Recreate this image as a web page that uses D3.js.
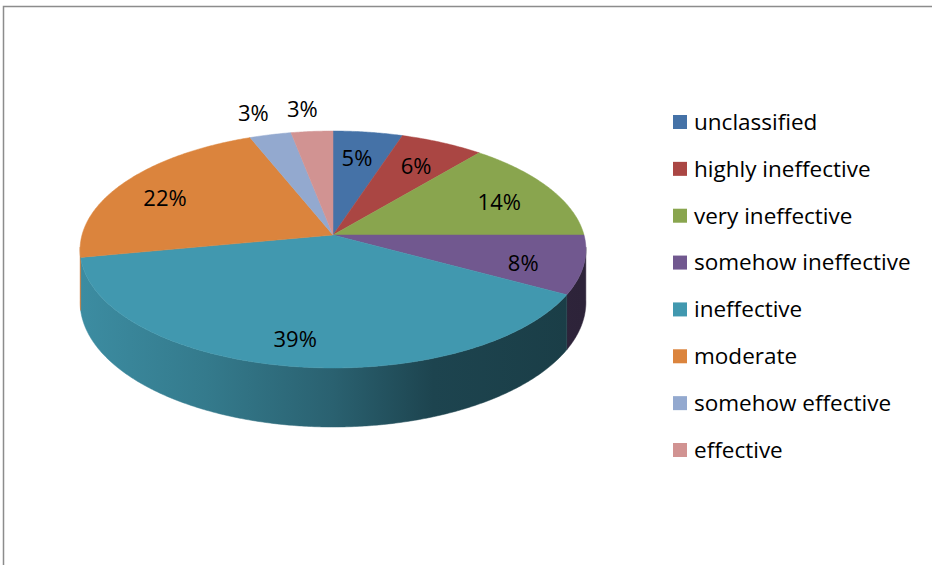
<!DOCTYPE html>
<html>
<head>
<meta charset="utf-8">
<script src="https://cdn.jsdelivr.net/npm/d3@7"></script>
<style>
  html, body { margin: 0; padding: 0; background: #fff; }
  svg { display: block; }
</style>
</head>
<body>
<svg id="chart" width="932" height="565"></svg>
<script>
// ---- data ----
const categories = ["unclassified", "highly ineffective", "very ineffective", "somehow ineffective",
                    "ineffective", "moderate", "somehow effective", "effective"];
const values = [5, 6, 14, 8, 39, 22, 3, 3];
const labels = ["5%", "6%", "14%", "8%", "39%", "22%", "3%", "3%"];
const colors = ["#4572A7", "#AA4643", "#89A54E", "#71588F", "#4198AF", "#DB843D", "#93A9CF", "#D19392"];

// ---- layout ----
const cx = 333, cy = 235;      // projected pie centre
const A = 251, B = 116.7;      // horizontal / vertical radii
const k = 0.1224;              // perspective strength
const depth = 51.8;            // pie thickness
const fontFamily = "'Open Sans', 'Noto Sans', sans-serif";

const svg = d3.select("#chart");

// frame
svg.append("rect")
  .attr("x", 3.5).attr("y", 6.5).attr("width", 1200).attr("height", 1200)
  .attr("fill", "none").attr("stroke", "#8c8c8c").attr("stroke-width", 1.5);

// perspective projection of a point on the pie plane (theta: 0 = top, clockwise)
function proj(theta, f, drop) {
  const X = f * Math.sin(theta), Z = -f * Math.cos(theta);
  const w = 1 - k * Z;
  return [cx + A * X / w, cy + (B * Z + (drop || 0)) / w];
}

const pie = d3.pie().sort(null).value(d => d)(values);
const line = d3.line();
const step = Math.PI / 360;

function arcPoints(a0, a1, f, drop) {
  const pts = [];
  const n = Math.max(2, Math.ceil((a1 - a0) / step));
  for (let i = 0; i <= n; i++) pts.push(proj(a0 + (a1 - a0) * i / n, f, drop));
  return pts;
}

// gradients for side walls (lighting from the left)
const defs = svg.append("defs");
const shade = [[0, 0.08], [0.25, 0.2], [0.5, 0.36], [0.7, 0.55], [1, 0.6]];
colors.forEach((c, i) => {
  const g = defs.append("linearGradient")
    .attr("id", "side" + i).attr("gradientUnits", "userSpaceOnUse")
    .attr("x1", cx - A).attr("x2", cx + A).attr("y1", 0).attr("y2", 0);
  shade.forEach(([o, s]) => {
    g.append("stop").attr("offset", o).attr("stop-color", d3.interpolateRgb(c, "#000")(s));
  });
});

// visible part of the rim under perspective
const silR = Math.acos(-k), silL = 2 * Math.PI - silR;

// side walls (front half only)
const sides = svg.append("g");
pie.forEach((p, i) => {
  const a0 = Math.max(p.startAngle, silR - 0.02);
  const a1 = Math.min(p.endAngle, silL + 0.02);
  if (a1 <= a0) return;
  const top = arcPoints(a0, a1, 1, 0);
  const bottom = arcPoints(a0, a1, 1, depth).reverse();
  sides.append("path")
    .attr("d", line(top.concat(bottom)) + "Z")
    .attr("fill", `url(#side${i})`)
    .attr("stroke", `url(#side${i})`).attr("stroke-width", 0.5);
});

// top faces
const tops = svg.append("g");
pie.forEach((p, i) => {
  const pts = [proj(0, 0)].concat(arcPoints(p.startAngle, p.endAngle, 1, 0));
  tops.append("path")
    .attr("d", line(pts) + "Z")
    .attr("fill", colors[i])
    .attr("stroke", colors[i]).attr("stroke-width", 0.5);
});

// data labels
const lbl = svg.append("g")
  .attr("font-family", fontFamily).attr("font-size", 22).attr("fill", "#000")
  .attr("text-anchor", "middle");
pie.forEach((p, i) => {
  const mid = (p.startAngle + p.endAngle) / 2;
  const outside = values[i] < 4;
  const [x, y] = proj(mid, outside ? 1.2 : 0.78, 0);
  lbl.append("text").attr("x", outside ? x - 6 : x - 4).attr("y", outside ? y - 4 : y + 5)
    .attr("dy", "0.35em").text(labels[i]);
});

// legend
const ly = d3.scalePoint().domain(categories).range([122, 450]);
const leg = svg.append("g").attr("font-family", fontFamily).attr("font-size", 22.5);
categories.forEach((c, i) => {
  leg.append("rect").attr("x", 673).attr("y", ly(c) - 7).attr("width", 14).attr("height", 14)
    .attr("fill", colors[i]);
  leg.append("text").attr("x", 694).attr("y", ly(c)).attr("dy", "0.35em").attr("fill", "#000").text(c);
});
</script>
</body>
</html>
